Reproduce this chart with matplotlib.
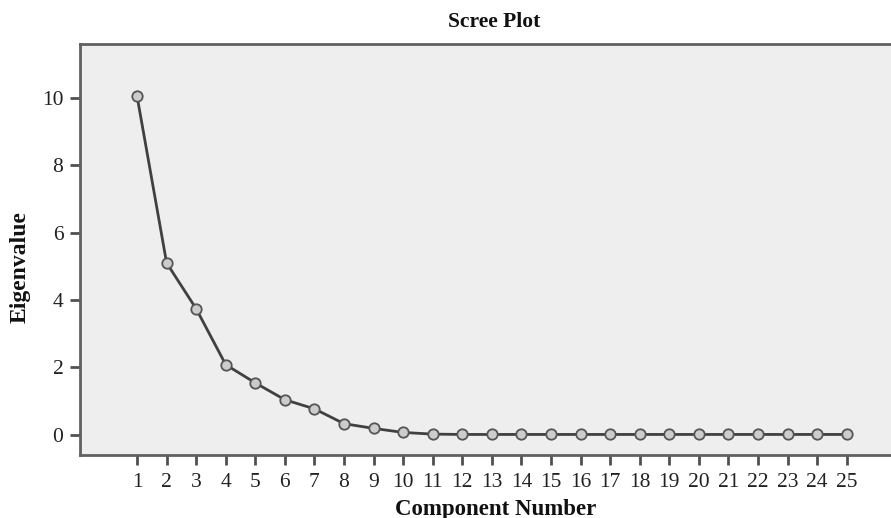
import numpy as np
import matplotlib
matplotlib.use('Agg')
from matplotlib import pyplot as plt

# Scree plot data
components = list(range(1, 26))
eigenvalues = [10.05, 5.10, 3.74, 2.08, 1.54, 1.04, 0.77, 0.33, 0.19, 0.07,
               0.02, 0.01, 0.01, 0.01, 0.01, 0.01, 0.01, 0.01, 0.01, 0.01,
               0.01, 0.01, 0.01, 0.01, 0.01]
yticks = [0, 2, 4, 6, 8, 10]

plt.rcParams['font.family'] = ['Liberation Serif', 'DejaVu Serif']

W, H = 891, 518
fig = plt.figure(figsize=(W / 100, H / 100), dpi=100)
ax = fig.add_axes([80 / W, 1 - 455 / H, 1 - 80 / W, (455 - 44) / H])
ax.set_facecolor('#eeeeee')

ax.plot(components, eigenvalues, color='#404040', linewidth=2,
        marker='o', markersize=7.5, markerfacecolor='#cccccc',
        markeredgecolor='#555555', markeredgewidth=1.3)

ax.set_xlim(-0.93, 26.5)
ax.set_ylim(-0.6, 11.6)
ax.set_xticks(components)
ax.set_yticks(yticks)

for side in ['left', 'top', 'bottom']:
    ax.spines[side].set_color('#606060')
    ax.spines[side].set_linewidth(2)
ax.spines['right'].set_visible(False)

ax.tick_params(axis='both', direction='out', length=7, width=2,
               color='#505050', labelsize=15.5, labelcolor='#222222')
ax.tick_params(axis='x', pad=6)
ax.tick_params(axis='y', pad=5)

# titles placed where the reference has them
fig.text(494 / W, 1 - 22 / H, 'Scree Plot', fontsize=15.5, fontweight='bold',
         ha='center', va='center', color='#111111')
fig.text(496 / W, 1 - 509 / H, 'Component Number', fontsize=16.5,
         fontweight='bold', ha='center', va='center', color='#111111')
fig.text(20 / W, 1 - 267 / H, 'Eigenvalue', fontsize=17, fontweight='bold',
         rotation=90, ha='center', va='center', color='#111111')

plt.savefig('out.png', dpi=100)
